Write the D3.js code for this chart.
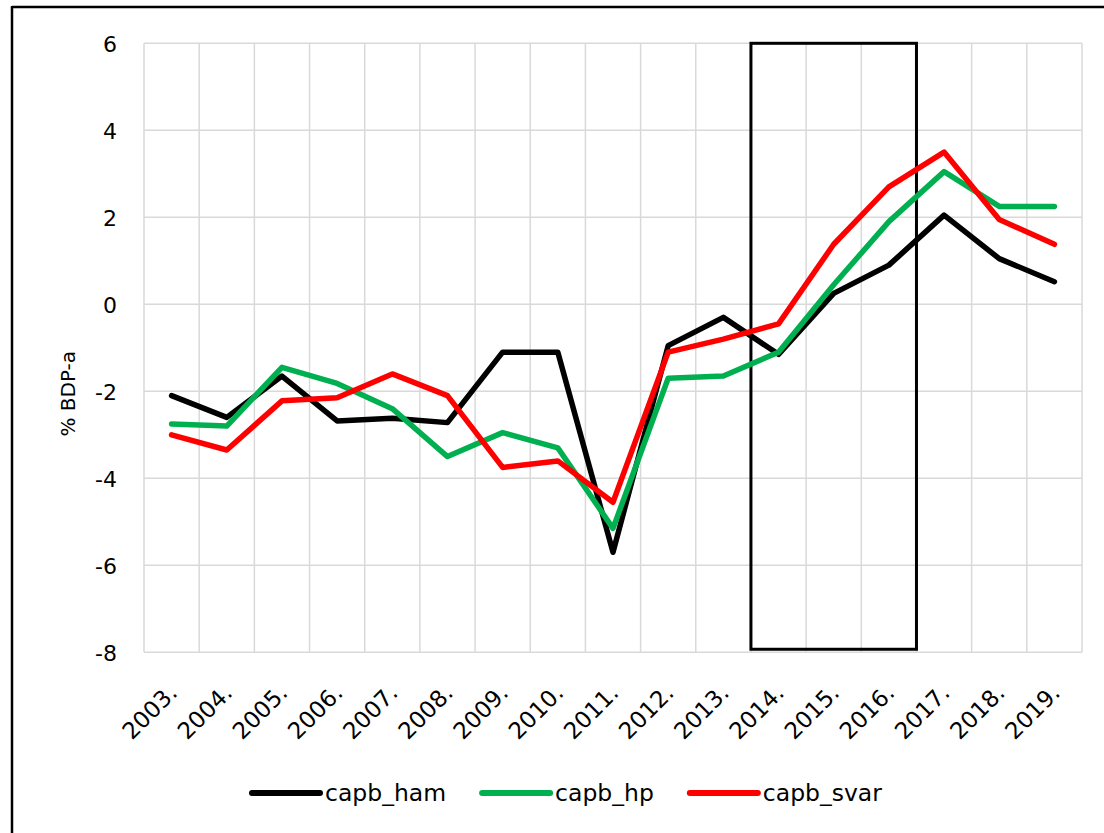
<!DOCTYPE html>
<html>
<head>
<meta charset="utf-8">
<script src="https://cdn.jsdelivr.net/npm/d3@7"></script>
<style>
  body { margin: 0; background: #fff; }
  svg { display: block; font-family: "DejaVu Sans", sans-serif; }
</style>
</head>
<body>
<svg id="chart" width="1104" height="833"></svg>
<script>
// years on the x axis
const years = ["2003.", "2004.", "2005.", "2006.", "2007.", "2008.", "2009.", "2010.", "2011.",
               "2012.", "2013.", "2014.", "2015.", "2016.", "2017.", "2018.", "2019."];

// series values (% BDP-a)
const capbHam  = [-2.1, -2.6, -1.65, -2.68, -2.62, -2.72, -1.1, -1.1, -5.7, -0.95, -0.3, -1.15, 0.25, 0.9, 2.05, 1.05, 0.52];
const capbHp   = [-2.75, -2.8, -1.45, -1.82, -2.4, -3.5, -2.95, -3.3, -5.15, -1.7, -1.65, -1.1, 0.45, 1.9, 3.05, 2.25, 2.25];
const capbSvar = [-3.0, -3.35, -2.22, -2.15, -1.6, -2.1, -3.75, -3.6, -4.55, -1.1, -0.8, -0.45, 1.38, 2.7, 3.5, 1.95, 1.38];

const seriesNames = ["capb_ham", "capb_hp", "capb_svar"];
const seriesColors = ["#000000", "#00b050", "#ff0000"];
const yTicks = [-8, -6, -4, -2, 0, 2, 4, 6];

// highlighted period
const boxFrom = "2014.", boxTo = "2016.";
const boxTop = 6, boxBottom = -7.93;

const svg = d3.select("#chart");

const plotLeft = 144, plotRight = 1082, plotTop = 43.3, plotBottom = 652.3;

const x = d3.scaleBand().domain(years).range([plotLeft, plotRight]);
const y = d3.scaleLinear().domain([-8, 6]).range([plotBottom, plotTop]);

// outer frame (only top and left edges visible)
svg.append("line").attr("x1", 12).attr("x2", 1104).attr("y1", 7).attr("y2", 7)
    .attr("stroke", "#000").attr("stroke-width", 2.5);
svg.append("line").attr("x1", 12).attr("x2", 12).attr("y1", 6).attr("y2", 833)
    .attr("stroke", "#000").attr("stroke-width", 2.5);

// grid
const grid = svg.append("g").attr("stroke", "#d9d9d9").attr("stroke-width", 1.5);
grid.selectAll("line.h")
    .data(yTicks)
    .enter().append("line")
    .attr("class", "h")
    .attr("x1", plotLeft).attr("x2", plotRight)
    .attr("y1", d => y(d)).attr("y2", d => y(d));
grid.selectAll("line.v")
    .data(years.concat([null]))
    .enter().append("line")
    .attr("class", "v")
    .attr("x1", (d, i) => plotLeft + i * x.step())
    .attr("x2", (d, i) => plotLeft + i * x.step())
    .attr("y1", plotTop).attr("y2", plotBottom);

// y axis labels (plain hyphen for negatives, like the original)
const yAxis = d3.axisLeft(y).tickValues(yTicks).tickSize(0).tickPadding(0)
    .tickFormat(d => String(d));
const gy = svg.append("g").attr("transform", "translate(117,0)").call(yAxis);
gy.select(".domain").remove();
gy.selectAll("text")
    .attr("font-size", "22px")
    .attr("font-family", "DejaVu Sans, sans-serif")
    .attr("fill", "#000")
    .attr("dy", "0.36em");

svg.append("text")
    .attr("transform", `translate(75,${(plotTop + plotBottom) / 2 + 46}) rotate(-90)`)
    .attr("text-anchor", "middle")
    .attr("font-size", "20px")
    .attr("fill", "#000")
    .text("% BDP-a");

// x axis labels
svg.selectAll("text.xlab")
    .data(years)
    .enter().append("text")
    .attr("class", "xlab")
    .attr("text-anchor", "end")
    .attr("font-size", "23px")
    .attr("fill", "#000")
    .attr("transform", d => `translate(${x(d) + x.bandwidth() / 2 + 7},${plotBottom + 42}) rotate(-45)`)
    .text(d => d);

// highlight box
svg.append("rect")
    .attr("x", x(boxFrom))
    .attr("y", y(boxTop))
    .attr("width", x(boxTo) + x.bandwidth() - x(boxFrom))
    .attr("height", y(boxBottom) - y(boxTop))
    .attr("fill", "none")
    .attr("stroke", "#000")
    .attr("stroke-width", 3);

// lines
const line = d3.line()
    .x((d, i) => x(years[i]) + x.bandwidth() / 2)
    .y(d => y(d));

[capbHam, capbHp, capbSvar].forEach((values, k) => {
    svg.append("path")
        .datum(values)
        .attr("fill", "none")
        .attr("stroke", seriesColors[k])
        .attr("stroke-width", 5.5)
        .attr("stroke-linejoin", "round")
        .attr("stroke-linecap", "round")
        .attr("d", line);
});

// legend
const legend = svg.append("g");
let lx = 252;
seriesNames.forEach((name, k) => {
    legend.append("line")
        .attr("x1", lx).attr("x2", lx + 68)
        .attr("y1", 793).attr("y2", 793)
        .attr("stroke", seriesColors[k])
        .attr("stroke-width", 6)
        .attr("stroke-linecap", "round");
    const t = legend.append("text")
        .attr("x", lx + 73)
        .attr("y", 801)
        .attr("font-size", "23.5px")
        .attr("fill", "#000")
        .text(name);
    lx += 73 + t.node().getComputedTextLength() + 36;
});
</script>
</body>
</html>
